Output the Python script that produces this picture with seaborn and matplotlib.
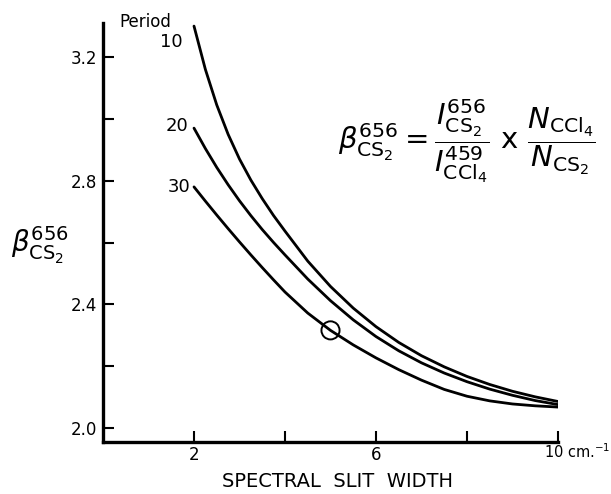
import pandas as pd
import seaborn as sns
import matplotlib.pyplot as plt

# values
slit_width = [2, 2.25, 2.5, 2.75, 3, 3.25, 3.5, 3.75, 4, 4.5, 5, 5.5, 6, 6.5, 7,
              7.5, 8, 8.5, 9, 9.5, 10]
beta_period10 = [3.30, 3.16, 3.045, 2.95, 2.87, 2.802, 2.742, 2.687, 2.637, 2.54,
                 2.458, 2.388, 2.328, 2.277, 2.234, 2.198, 2.167, 2.141, 2.119,
                 2.101, 2.086]
beta_period20 = [2.97, 2.904, 2.843, 2.787, 2.735, 2.687, 2.642, 2.600, 2.560, 2.482,
                 2.412, 2.35, 2.296, 2.25, 2.211, 2.178, 2.15, 2.126, 2.106,
                 2.089, 2.076]
beta_period30 = [2.78, 2.734, 2.689, 2.645, 2.602, 2.56, 2.519, 2.479, 2.44, 2.372,
                 2.316, 2.269, 2.227, 2.189, 2.155, 2.125, 2.103, 2.088, 2.078,
                 2.072, 2.068]
periods = ['10', '20', '30']

# the single marked point on the period 30 curve
circle_x = [5.0]
circle_y = [2.316]

x_ticks = [2, 4, 6, 8, 10]
x_ticklabels = ['2', '', '6', '', '']
y_ticks = [2.0, 2.2, 2.4, 2.6, 2.8, 3.0, 3.2]
y_ticklabels = ['2.0', '', '2.4', '', '2.8', '', '3.2']

sns.set_theme(style='ticks')
plt.rcParams['font.family'] = ['DejaVu Sans']
plt.rcParams['mathtext.fontset'] = 'dejavusans'
plt.rcParams['text.color'] = 'black'

df = pd.DataFrame({
    'width': slit_width * 3,
    'beta': beta_period10 + beta_period20 + beta_period30,
    'period': [p for p in periods for _ in slit_width],
})

fig = plt.figure(figsize=(6.11, 4.94), dpi=100)
ax = fig.add_axes([103 / 611, 1 - 442 / 494, 455 / 611, 419 / 494])

sns.lineplot(data=df, x='width', y='beta', hue='period', palette=['black'] * 3,
             linewidth=2, legend=False, ax=ax)
sns.scatterplot(x=circle_x, y=circle_y, marker='o', s=170, color='none',
                edgecolor='black', linewidth=1.4, ax=ax, zorder=5)

ax.set_xlim(0, 10)
ax.set_ylim(1.955, 3.31)
ax.set_xticks(x_ticks)
ax.set_xticklabels(x_ticklabels)
ax.set_yticks(y_ticks)
ax.set_yticklabels(y_ticklabels)
ax.tick_params(direction='in', length=8, width=1.5, labelsize=12, colors='black')
ax.tick_params(axis='y', pad=4)
ax.tick_params(axis='x', pad=3)
for side in ['top', 'right']:
    ax.spines[side].set_visible(False)
for side in ['left', 'bottom']:
    ax.spines[side].set_linewidth(2.4)
    ax.spines[side].set_color('black')

ax.set_xlabel('')
ax.set_ylabel('')
fig.text(337 / 611, 1 - 481 / 494, 'SPECTRAL  SLIT  WIDTH', fontsize=14,
         ha='center', va='center')

# labels of the curves
ax.text(0.92, 3.314, 'Period', fontsize=12, ha='center', va='center', clip_on=False)
for label, lx, ly in zip(periods, [1.5, 1.63, 1.67], [3.25, 2.976, 2.78]):
    ax.text(lx, ly, label, fontsize=13, ha='center', va='center')

fig.text(544 / 611, 1 - 452 / 494, r'10 cm.$^{-1}$', fontsize=10.5, ha='left', va='center')

fig.text(40 / 611, 1 - 245 / 494, r'$\beta^{656}_{\mathrm{CS_2}}$', fontsize=20,
         ha='center', va='center')

equation = (r'$\beta^{656}_{\mathrm{CS_2}} = '
            r'\dfrac{I^{656}_{\mathrm{CS_2}}}{I^{459}_{\mathrm{CCl_4}}}'
            r'\ \mathrm{x}\ '
            r'\dfrac{N_{\mathrm{CCl_4}}}{N_{\mathrm{CS_2}}}$')
fig.text(338 / 611, 1 - 141 / 494, equation, fontsize=21, ha='left', va='center')

fig.savefig('out.png', dpi=100)
